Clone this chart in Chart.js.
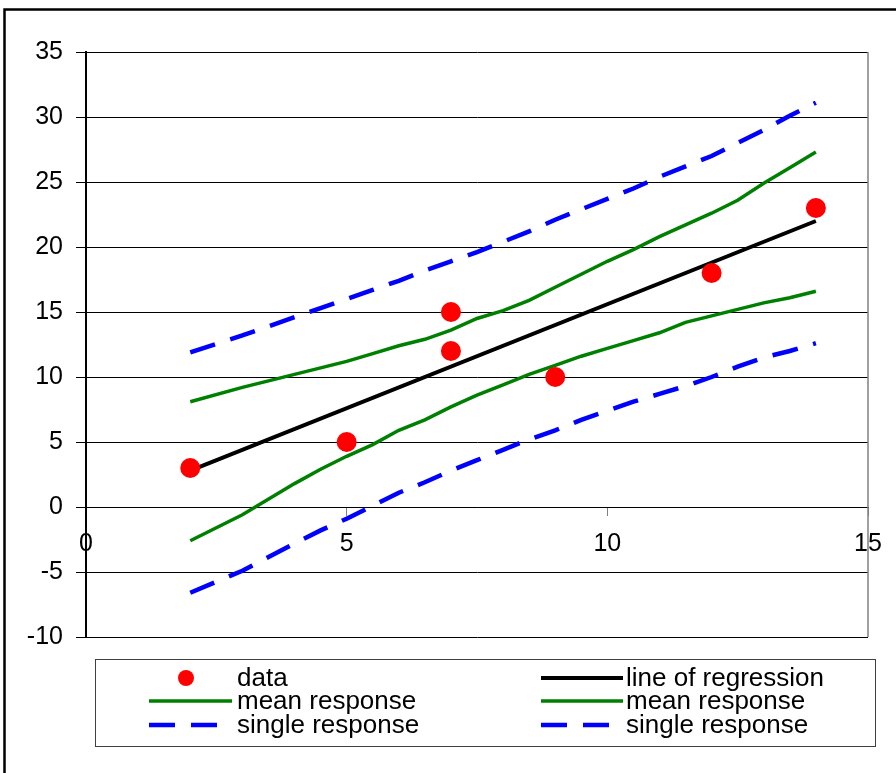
<!DOCTYPE html>
<html>
<head>
<meta charset="utf-8">
<script src="https://cdn.jsdelivr.net/npm/chart.js@4.4.1/dist/chart.umd.min.js"></script>
<style>
  body { margin: 0; background: #fff; }
  #wrap { width: 896px; height: 773px; position: relative; }
</style>
</head>
<body>
<div id="wrap"><canvas id="chart" width="896" height="773"></canvas></div>
<script>
// --- DATA ---
const dataX = [2, 5, 7, 7, 9, 12, 14];
const dataY = [3, 5, 15, 12, 10, 18, 23];

const regX = [2, 14];
const regY = [2.8, 22.0];

const bandX = [2, 3, 4, 4.5, 5, 5.5, 6, 6.5, 7, 7.5, 8, 8.5, 9, 9.5, 10, 10.5, 11, 11.5, 12, 12.5, 13, 13.5, 14];
const meanUpper = [8.1, 9.2, 10.2, 10.7, 11.2, 11.8, 12.4, 12.9, 13.6, 14.5, 15.1, 15.9, 16.9, 17.9, 18.9, 19.8, 20.8, 21.7, 22.6, 23.6, 24.9, 26.1, 27.3];
const meanLower = [-2.6, -0.6, 1.8, 2.9, 3.9, 4.8, 5.9, 6.7, 7.7, 8.6, 9.4, 10.2, 10.9, 11.6, 12.2, 12.8, 13.4, 14.2, 14.7, 15.2, 15.7, 16.1, 16.6];
const singleUpper = [11.9, 13.2, 14.6, 15.3, 16.0, 16.7, 17.4, 18.2, 18.9, 19.6, 20.4, 21.2, 22.1, 22.9, 23.7, 24.5, 25.4, 26.2, 27.0, 28.0, 29.0, 30.1, 31.1];
const singleLower = [-6.6, -4.9, -2.8, -1.8, -0.9, 0.1, 1.1, 1.9, 2.8, 3.6, 4.4, 5.2, 5.9, 6.7, 7.4, 8.1, 8.7, 9.3, 10.0, 10.8, 11.5, 12.0, 12.6];

const xTicks = [0, 5, 10, 15];
const yTicks = [-10, -5, 0, 5, 10, 15, 20, 25, 30, 35];

const legendLabels = ['data', 'line of regression', 'mean response', 'mean response', 'single response', 'single response'];

// --- HELPERS ---
const pairs = (xs, ys) => xs.map((x, i) => ({ x: x, y: ys[i] }));
const FONT = '"Liberation Sans", Arial, sans-serif';
const GREEN = '#008000';
const BLUE = '#0000ff';
const DASH = [26, 16];

function lineSet(label, xs, ys, color, width, dash) {
    return {
        label: label,
        data: pairs(xs, ys),
        showLine: true,
        borderColor: color,
        backgroundColor: color,
        borderWidth: width,
        borderDash: dash || [],
        pointRadius: 0,
        tension: 0,
        order: 2
    };
}

// outer frame + right border of the plot
const framePlugin = {
    id: 'frame',
    beforeDraw(chart) {
        const ctx = chart.ctx;
        ctx.save();
        ctx.strokeStyle = '#000';
        ctx.lineWidth = 2.5;
        ctx.beginPath();
        ctx.moveTo(4.5, 780);
        ctx.lineTo(4.5, 9.5);
        ctx.lineTo(900, 9.5);
        ctx.stroke();
        ctx.restore();
    },
    afterDraw(chart) {
        const ctx = chart.ctx;
        const a = chart.chartArea;
        ctx.save();
        ctx.strokeStyle = '#808080';
        ctx.lineWidth = 1.5;
        ctx.beginPath();
        ctx.moveTo(a.right, a.top);
        ctx.lineTo(a.right, a.bottom);
        ctx.stroke();
        ctx.restore();
    }
};

// two-column legend box below the plot
const legendPlugin = {
    id: 'gridLegend',
    afterDraw(chart) {
        const ctx = chart.ctx;
        const box = { x: 95.5, y: 659.5, w: 780, h: 87 };
        const cols = [{ s0: 149, s1: 232, tx: 237, dot: 186 }, { s0: 541, s1: 623, tx: 626, dot: 580 }];
        const rows = [678, 701, 725];
        ctx.save();
        ctx.fillStyle = '#fff';
        ctx.fillRect(box.x, box.y, box.w, box.h);
        ctx.strokeStyle = '#404040';
        ctx.lineWidth = 1;
        ctx.strokeRect(box.x, box.y, box.w, box.h);
        ctx.font = '26px ' + FONT;
        ctx.textBaseline = 'middle';
        ctx.textAlign = 'left';
        chart.data.datasets.forEach((ds, i) => {
            const c = cols[i % 2];
            const y = rows[Math.floor(i / 2)];
            if (ds.showLine) {
                ctx.strokeStyle = ds.borderColor;
                ctx.lineWidth = ds.borderWidth;
                ctx.setLineDash(ds.borderDash || []);
                ctx.beginPath();
                ctx.moveTo(c.s0, y);
                ctx.lineTo(c.s1, y);
                ctx.stroke();
                ctx.setLineDash([]);
            } else {
                ctx.fillStyle = ds.backgroundColor;
                ctx.beginPath();
                ctx.arc(c.dot, y, 8, 0, Math.PI * 2);
                ctx.fill();
            }
            ctx.fillStyle = '#000';
            ctx.fillText(legendLabels[i], c.tx, y + 1);
        });
        ctx.restore();
    }
};

// --- CHART ---
new Chart(document.getElementById('chart'), {
    type: 'scatter',
    data: {
        datasets: [
            {
                label: legendLabels[0],
                data: pairs(dataX, dataY),
                showLine: false,
                backgroundColor: '#ff0000',
                borderColor: '#ff0000',
                pointRadius: 10,
                pointBorderWidth: 0,
                order: 1
            },
            lineSet(legendLabels[1], regX, regY, '#000', 4),
            lineSet(legendLabels[2], bandX, meanUpper, GREEN, 3.5),
            lineSet(legendLabels[3], bandX, meanLower, GREEN, 3.5),
            lineSet(legendLabels[4], bandX, singleUpper, BLUE, 4.5, DASH),
            lineSet(legendLabels[5], bandX, singleLower, BLUE, 4.5, DASH)
        ]
    },
    options: {
        responsive: false,
        animation: false,
        clip: false,
        layout: { padding: { left: 0, top: 52, right: 28, bottom: 136 } },
        plugins: {
            legend: { display: false },
            tooltip: { enabled: false }
        },
        scales: {
            x: {
                type: 'linear',
                position: { y: 0 },
                min: 0,
                max: 15,
                afterBuildTicks: (s) => { s.ticks = xTicks.map(v => ({ value: v })); },
                ticks: { color: '#000', font: { family: FONT, size: 25 }, padding: 14, maxRotation: 0 },
                grid: { drawOnChartArea: false, drawTicks: true, tickLength: 8, color: '#808080' },
                border: { display: true, color: '#000', width: 1 }
            },
            y: {
                type: 'linear',
                min: -10,
                max: 35,
                afterBuildTicks: (s) => { s.ticks = yTicks.map(v => ({ value: v })); },
                afterFit: (s) => { s.width = 86; },
                ticks: { color: '#000', font: { family: FONT, size: 25 }, padding: 13 },
                grid: { color: '#000', lineWidth: 1, drawTicks: true, tickLength: 10 },
                border: { display: true, color: '#000', width: 2 }
            }
        }
    },
    plugins: [framePlugin, legendPlugin]
});
</script>
</body>
</html>
